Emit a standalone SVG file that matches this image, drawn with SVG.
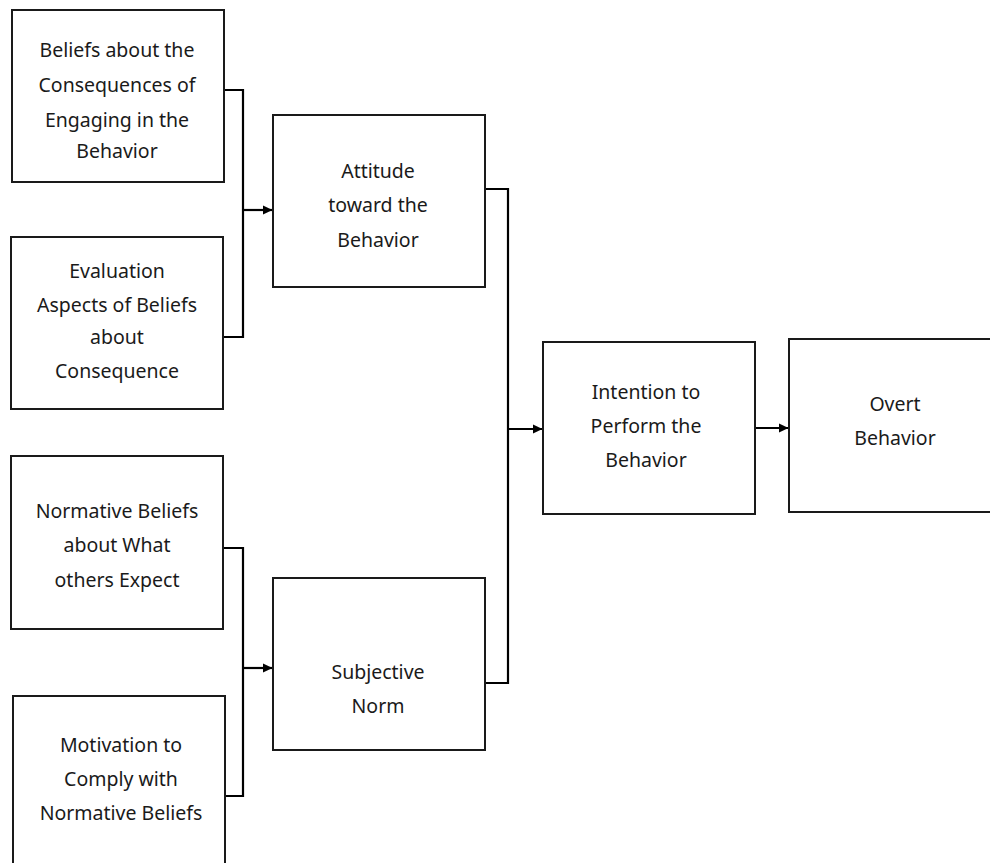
<svg xmlns="http://www.w3.org/2000/svg" width="990" height="863" viewBox="0 0 990 863">
<defs>
<style>
.box{fill:#fff;stroke:#1a1a1a;stroke-width:2}
.lbl{font-family:"Noto Sans","Open Sans","DejaVu Sans",sans-serif;font-size:19.5px;fill:#1a1a1a;text-anchor:middle}
.conn{fill:none;stroke:#000;stroke-width:2.2}
</style>
<marker id="arr" markerWidth="10" markerHeight="10" refX="9" refY="5" orient="auto" markerUnits="userSpaceOnUse">
<path d="M0,0.5 L9.5,5 L0,9.5 z" fill="#000"/>
</marker>
</defs>
<rect width="990" height="863" fill="#fff"/>
<g id="connectors">
<polyline class="conn" points="224,90 243,90 243,337 223,337"/>
<line class="conn" x1="243" y1="210" x2="272" y2="210" marker-end="url(#arr)"/>
<polyline class="conn" points="223,548 243,548 243,796 225,796"/>
<line class="conn" x1="243" y1="668" x2="272" y2="668" marker-end="url(#arr)"/>
<polyline class="conn" points="485,189 508,189 508,683 485,683"/>
<line class="conn" x1="508" y1="429" x2="542" y2="429" marker-end="url(#arr)"/>
<line class="conn" x1="755" y1="428" x2="788" y2="428" marker-end="url(#arr)"/>
</g>
<g id="beliefs">
<rect class="box" x="12" y="10" width="212" height="172"/>
<text class="lbl" x="117" y="57">Beliefs about the</text>
<text class="lbl" x="117" y="92">Consequences of</text>
<text class="lbl" x="117" y="127">Engaging in the</text>
<text class="lbl" x="117" y="158">Behavior</text>
</g>
<g id="evaluation">
<rect class="box" x="11" y="237" width="212" height="172"/>
<text class="lbl" x="117" y="278">Evaluation</text>
<text class="lbl" x="117" y="312">Aspects of Beliefs</text>
<text class="lbl" x="117" y="344">about</text>
<text class="lbl" x="117" y="378">Consequence</text>
</g>
<g id="normative">
<rect class="box" x="11" y="456" width="212" height="173"/>
<text class="lbl" x="117" y="518">Normative Beliefs</text>
<text class="lbl" x="117" y="552">about What</text>
<text class="lbl" x="117" y="587">others Expect</text>
</g>
<g id="motivation">
<rect class="box" x="13" y="696" width="212" height="180"/>
<text class="lbl" x="121" y="752">Motivation to</text>
<text class="lbl" x="121" y="786">Comply with</text>
<text class="lbl" x="121" y="820">Normative Beliefs</text>
</g>
<g id="attitude">
<rect class="box" x="273" y="115" width="212" height="172"/>
<text class="lbl" x="378" y="178">Attitude</text>
<text class="lbl" x="378" y="212">toward the</text>
<text class="lbl" x="378" y="247">Behavior</text>
</g>
<g id="subjective">
<rect class="box" x="273" y="578" width="212" height="172"/>
<text class="lbl" x="378" y="679">Subjective</text>
<text class="lbl" x="378" y="713">Norm</text>
</g>
<g id="intention">
<rect class="box" x="543" y="342" width="212" height="172"/>
<text class="lbl" x="646" y="399">Intention to</text>
<text class="lbl" x="646" y="433">Perform the</text>
<text class="lbl" x="646" y="467">Behavior</text>
</g>
<g id="overt">
<rect class="box" x="789" y="339" width="212" height="173"/>
<text class="lbl" x="895" y="411">Overt</text>
<text class="lbl" x="895" y="445">Behavior</text>
</g>
</svg>
